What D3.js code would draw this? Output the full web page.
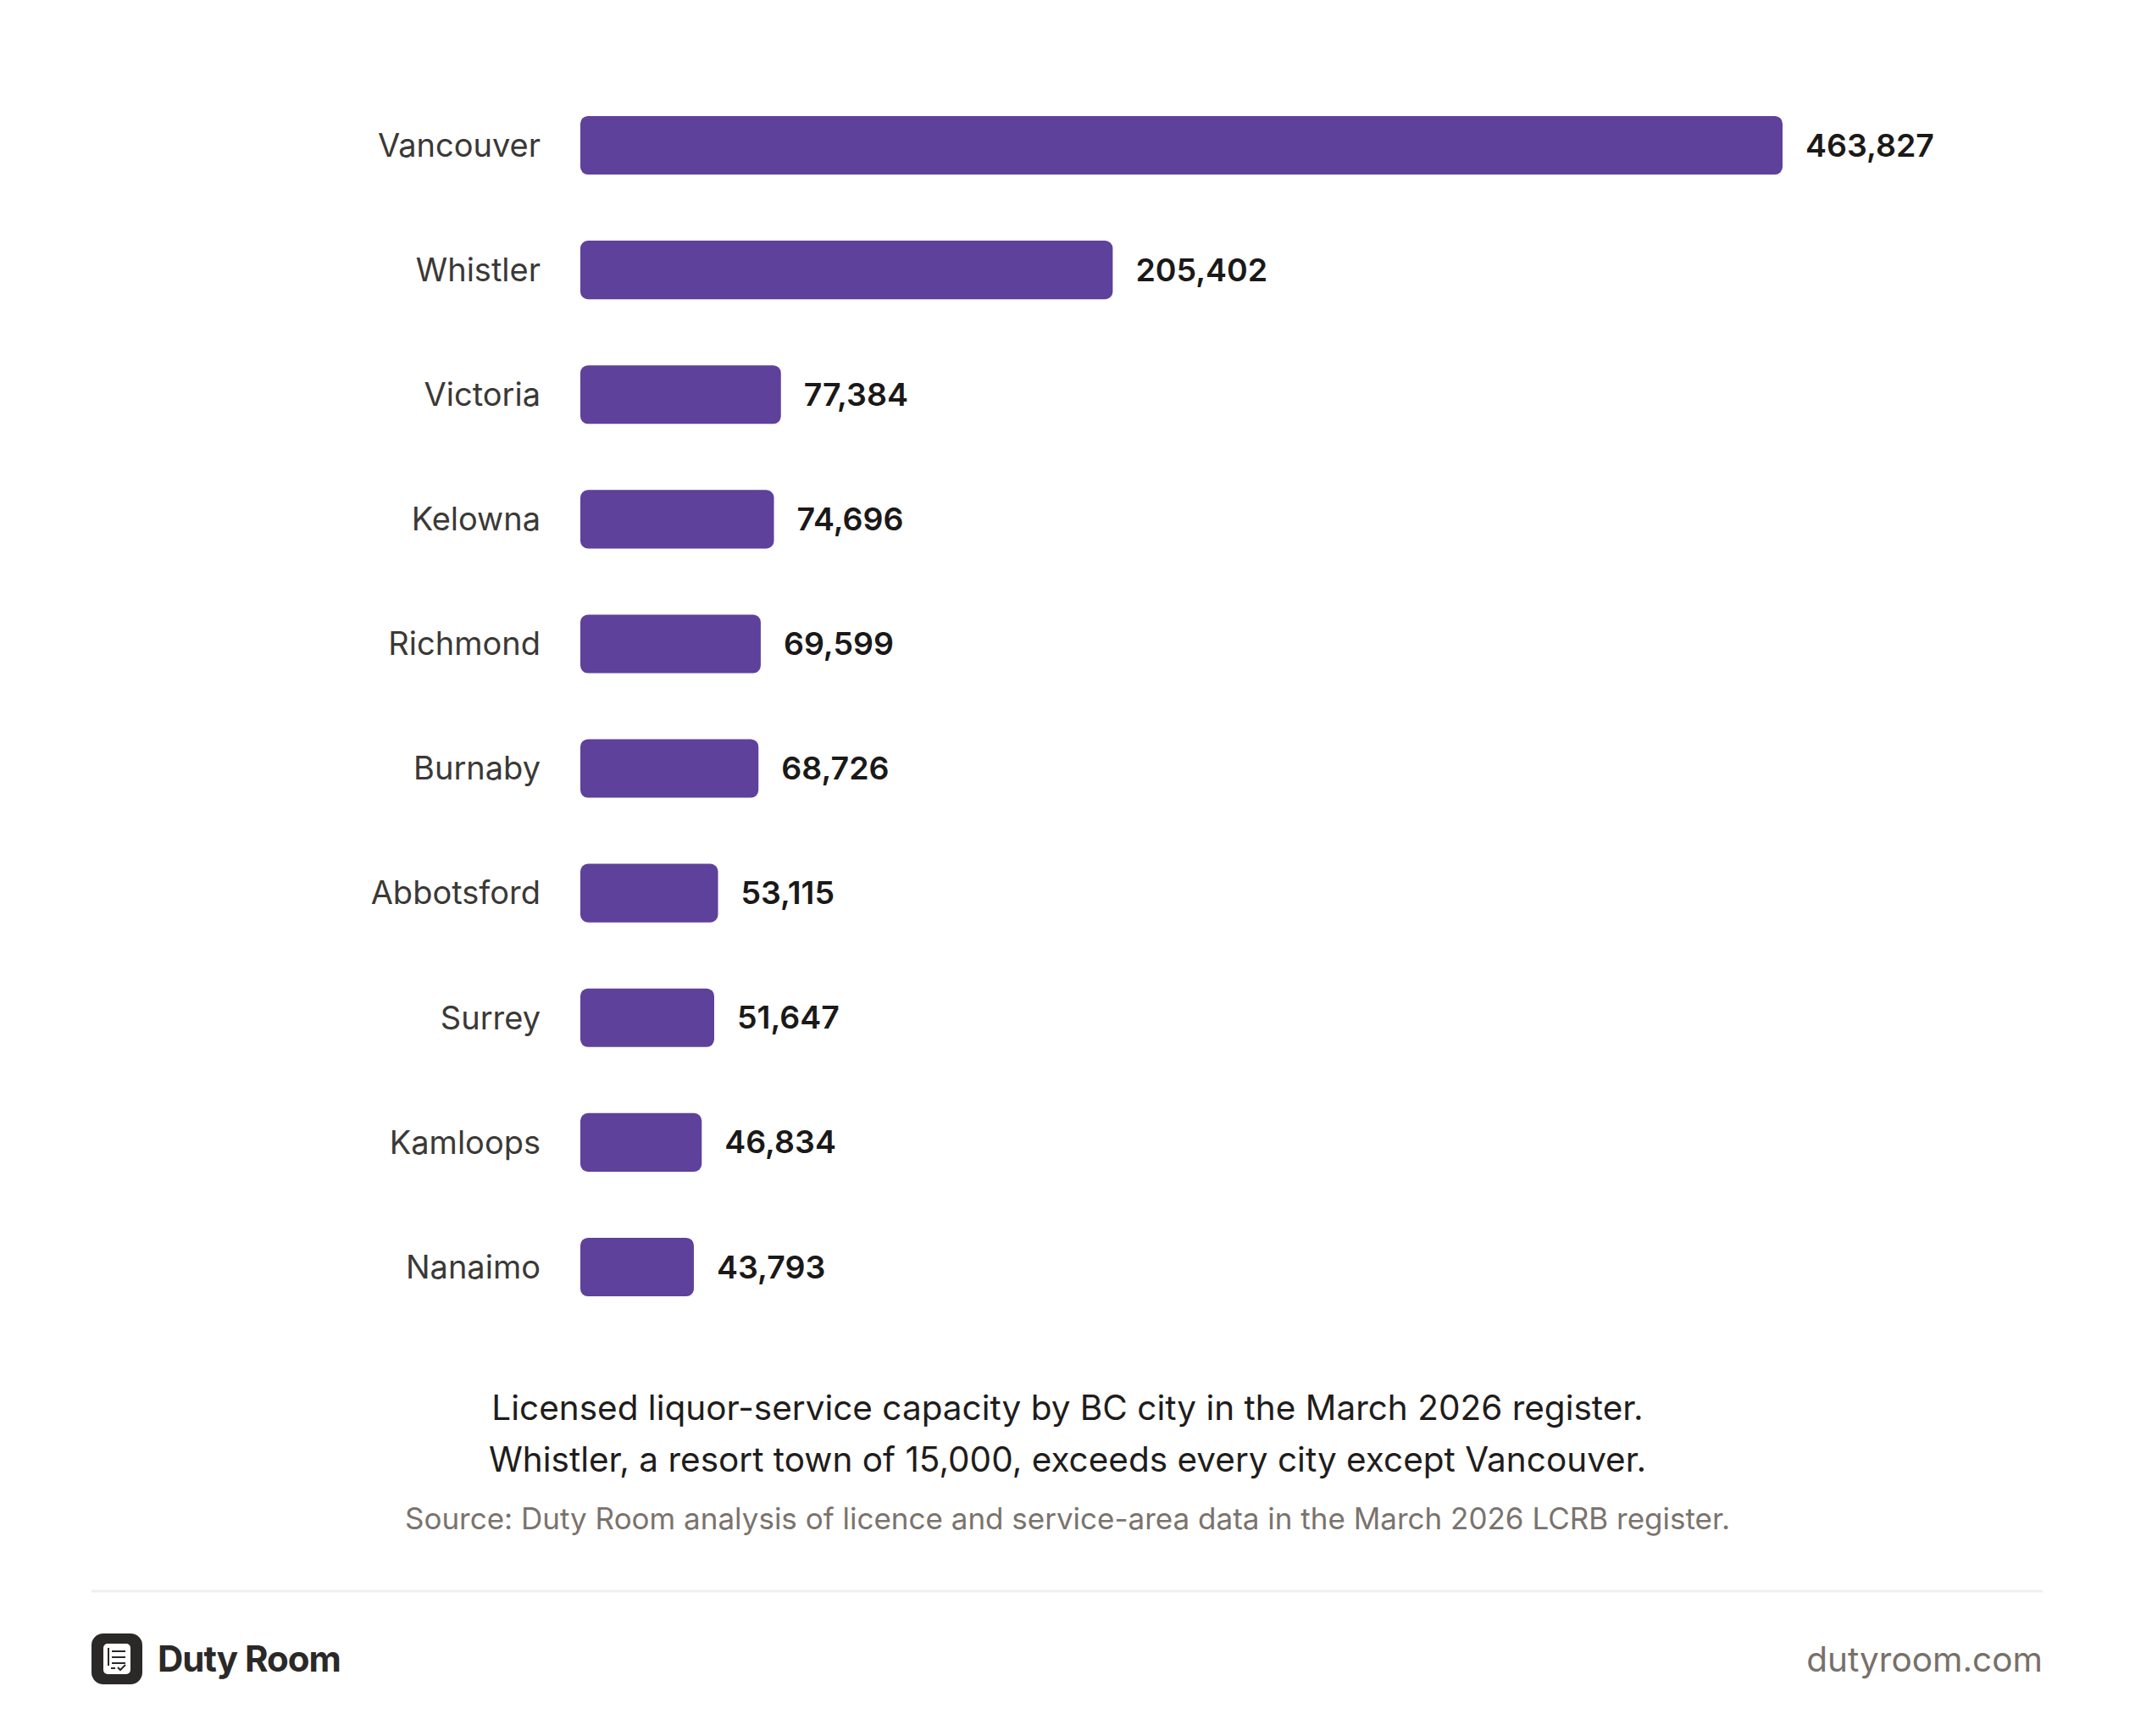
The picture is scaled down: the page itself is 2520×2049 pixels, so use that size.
<!DOCTYPE html>
<html>
<head>
<meta charset="utf-8">
<script src="https://cdn.jsdelivr.net/npm/d3@7"></script>
<style>
  html, body { margin: 0; padding: 0; background: #ffffff; }
  svg { display: block; font-family: Inter, "Noto Sans", sans-serif; }
</style>
</head>
<body>
<svg id="chart" width="2520" height="2049"></svg>
<script>
// city capacity values
const cities = ["Vancouver", "Whistler", "Victoria", "Kelowna", "Richmond",
  "Burnaby", "Abbotsford", "Surrey", "Kamloops", "Nanaimo"];
const capacity = [463827, 205402, 77384, 74696, 69599,
  68726, 53115, 51647, 46834, 43793];

const captionLines = [
  "Licensed liquor-service capacity by BC city in the March 2026 register.",
  "Whistler, a resort town of 15,000, exceeds every city except Vancouver."
];
const sourceText = "Source: Duty Room analysis of licence and service-area data in the March 2026 LCRB register.";

const W = 2520, H = 2049;
const svg = d3.select("#chart");

const rows = cities.map((c, i) => ({city: c, value: capacity[i]}));

const x = d3.scaleLinear()
  .domain([0, d3.max(capacity)])
  .range([685, 2104]);

const y = d3.scaleBand()
  .domain(cities)
  .range([98, 1569])
  .paddingInner(0.53)
  .paddingOuter(0.265);

const fmt = d3.format(",");

// bars
svg.append("g").selectAll("rect")
  .data(rows)
  .enter().append("rect")
    .attr("x", x(0))
    .attr("y", d => y(d.city))
    .attr("width", d => x(d.value) - x(0))
    .attr("height", y.bandwidth())
    .attr("rx", 9)
    .attr("fill", "#5e419b");

// category labels
svg.append("g").selectAll("text")
  .data(rows)
  .enter().append("text")
    .attr("x", 638)
    .attr("y", d => y(d.city) + y.bandwidth() / 2)
    .attr("dy", "0.35em")
    .attr("text-anchor", "end")
    .attr("font-size", 38)
    .attr("fill", "#3b3936")
    .text(d => d.city);

// value labels
svg.append("g").selectAll("text")
  .data(rows)
  .enter().append("text")
    .attr("x", d => x(d.value) + 27)
    .attr("y", d => y(d.city) + y.bandwidth() / 2)
    .attr("dy", "0.35em")
    .attr("font-size", 37.5)
    .attr("font-weight", 600)
    .attr("fill", "#1b1918")
    .text(d => fmt(d.value));

// caption
svg.append("g").selectAll("text")
  .data(captionLines)
  .enter().append("text")
    .attr("x", W / 2)
    .attr("y", (d, i) => 1676 + i * 61)
    .attr("text-anchor", "middle")
    .attr("font-size", 40.5)
    .attr("fill", "#1f1d1c")
    .text(d => d);

svg.append("text")
  .attr("x", W / 2)
  .attr("y", 1805)
  .attr("text-anchor", "middle")
  .attr("font-size", 35)
  .attr("fill", "#7a736d")
  .text(sourceText);

// divider
svg.append("line")
  .attr("x1", 108).attr("x2", 2411)
  .attr("y1", 1878).attr("y2", 1878)
  .attr("stroke", "#f0efee")
  .attr("stroke-width", 3);

// footer logo
const logo = svg.append("g").attr("transform", "translate(108,1928)");
logo.append("rect")
  .attr("width", 60).attr("height", 60).attr("rx", 14)
  .attr("fill", "#2b2928");
logo.append("rect")
  .attr("x", 14).attr("y", 12).attr("width", 32).attr("height", 36).attr("rx", 5)
  .attr("fill", "#ffffff");
logo.append("line").attr("x1", 20).attr("x2", 20).attr("y1", 17).attr("y2", 43)
  .attr("stroke", "#2b2928").attr("stroke-width", 2);
[[24, 40, 21], [24, 40, 28], [24, 40, 35]].forEach(l => {
  logo.append("line").attr("x1", l[0]).attr("x2", l[1]).attr("y1", l[2]).attr("y2", l[2])
    .attr("stroke", "#2b2928").attr("stroke-width", 2);
});
logo.append("rect").attr("x", 16).attr("y", 38).attr("width", 28).attr("height", 8).attr("fill", "#ffffff");
logo.append("line").attr("x1", 23).attr("x2", 28).attr("y1", 41).attr("y2", 41)
  .attr("stroke", "#2b2928").attr("stroke-width", 2);
logo.append("path").attr("d", "M31 40 L34 43 L40 37")
  .attr("fill", "none").attr("stroke", "#2b2928").attr("stroke-width", 2);

svg.append("text")
  .attr("x", 186).attr("y", 1973)
  .attr("font-size", 42)
  .attr("font-weight", 700)
  .attr("letter-spacing", -1)
  .attr("fill", "#2b2928")
  .text("Duty Room");

svg.append("text")
  .attr("x", 2411).attr("y", 1973)
  .attr("text-anchor", "end")
  .attr("font-size", 40.5)
  .attr("fill", "#77706a")
  .text("dutyroom.com");
</script>
</body>
</html>
